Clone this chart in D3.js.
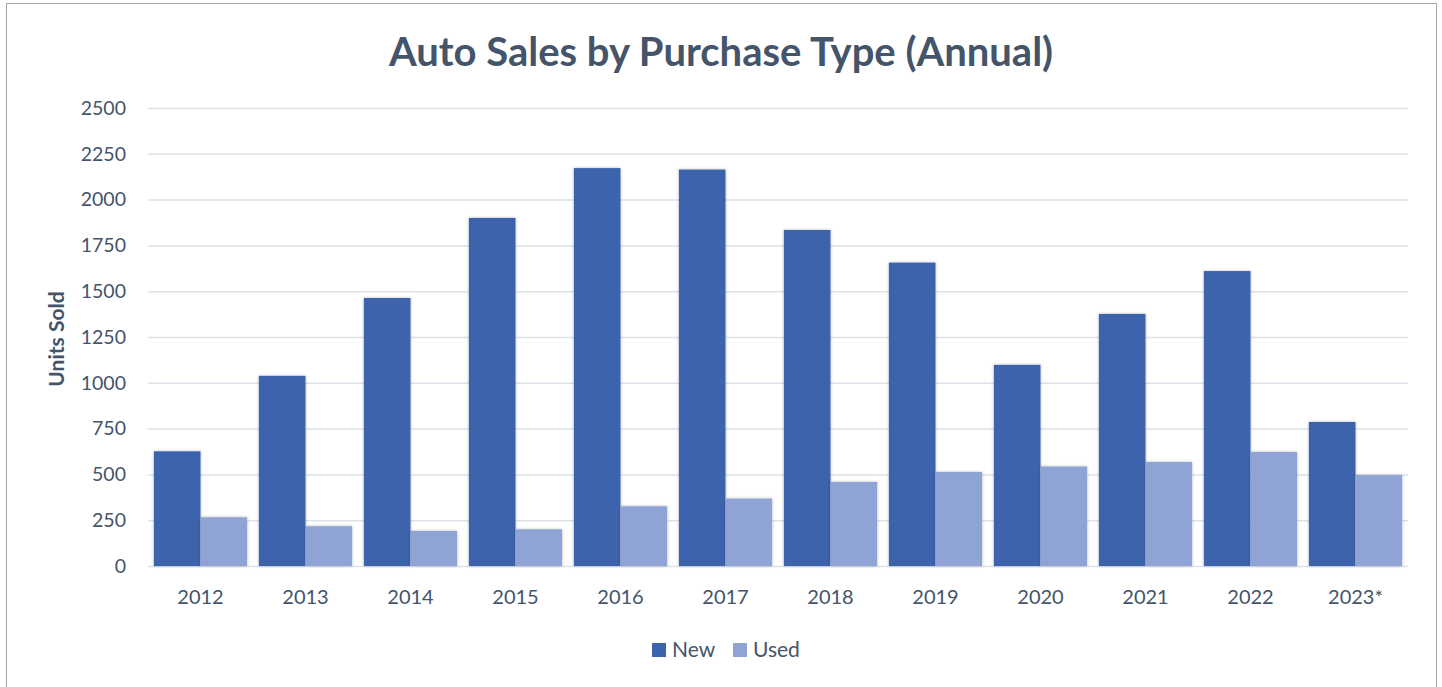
<!DOCTYPE html>
<html>
<head>
<meta charset="utf-8">
<script src="https://cdn.jsdelivr.net/npm/d3@7"></script>
<style>
  body { margin: 0; background: #fff; }
  svg text { font-family: Lato, "Open Sans", sans-serif; fill: #44546a; }
</style>
</head>
<body>
<svg id="chart" width="1442" height="687"></svg>
<script>
const years = ['2012', '2013', '2014', '2015', '2016', '2017', '2018', '2019', '2020', '2021', '2022', '2023*'];
const newSales = [626, 1038, 1463, 1900, 2172, 2164, 1834, 1656, 1098, 1376, 1610, 786];
const usedSales = [266, 217, 191, 200, 326, 368, 459, 513, 543, 568, 622, 496];
const seriesNames = ['New', 'Used'];
const yTicks = [0, 250, 500, 750, 1000, 1250, 1500, 1750, 2000, 2250, 2500];

const colors = {New: '#3c64ad', Used: '#8fa3d4'};

const svg = d3.select('#chart');

// outer border
svg.append('rect')
    .attr('x', 6.5).attr('y', 3.5)
    .attr('width', 1430).attr('height', 700)
    .attr('fill', '#fff')
    .attr('stroke', '#a6a6a6')
    .attr('stroke-width', 1);

// soft shadow for the bars
const defs = svg.append('defs');
defs.append('filter').attr('id', 'shadow')
    .attr('x', '-20%').attr('y', '-5%').attr('width', '140%').attr('height', '110%')
    .append('feDropShadow')
    .attr('dx', 0).attr('dy', 0).attr('stdDeviation', 1.6)
    .attr('flood-color', '#000').attr('flood-opacity', 0.28);

const plot = {left: 148, right: 1408, top: 108, bottom: 566};

const y = d3.scaleLinear().domain([0, 2500]).range([plot.bottom, plot.top]);

const x0 = d3.scaleBand()
    .domain(years)
    .range([plot.left, plot.right])
    .paddingInner(0.112)
    .paddingOuter(0.056);

const x1 = d3.scaleBand()
    .domain(seriesNames)
    .range([0, x0.bandwidth()]);

// gridlines
svg.append('g')
    .selectAll('line')
    .data(yTicks)
    .join('line')
    .attr('x1', plot.left).attr('x2', plot.right)
    .attr('y1', d => y(d) + 0.5).attr('y2', d => y(d) + 0.5)
    .attr('stroke', '#dde2ea')
    .attr('stroke-width', 1.5);

// y tick labels
svg.append('g')
    .selectAll('text')
    .data(yTicks)
    .join('text')
    .attr('x', 126)
    .attr('y', d => y(d))
    .attr('dy', '0.35em')
    .attr('text-anchor', 'end')
    .style('font-size', '19.5px')
    .text(d => d);

// bars
const rows = years.map((yr, i) => ({year: yr, New: newSales[i], Used: usedSales[i]}));

const groups = svg.append('g')
    .selectAll('g')
    .data(rows)
    .join('g')
    .attr('transform', d => 'translate(' + x0(d.year) + ',0)');

groups.selectAll('rect')
    .data(d => seriesNames.map(k => ({key: k, value: d[k]})))
    .join('rect')
    .attr('x', d => x1(d.key))
    .attr('y', d => y(d.value))
    .attr('width', x1.bandwidth())
    .attr('height', d => y(0) - y(d.value))
    .attr('fill', d => colors[d.key])
    .attr('filter', 'url(#shadow)');

// x labels
svg.append('g')
    .selectAll('text')
    .data(years)
    .join('text')
    .attr('x', d => x0(d) + x0.bandwidth() / 2)
    .attr('y', 604)
    .attr('text-anchor', 'middle')
    .style('font-size', '20px')
    .text(d => d);

// axis title
svg.append('text')
    .attr('transform', 'translate(64,' + ((plot.top + plot.bottom) / 2 + 2) + ') rotate(-90)')
    .attr('text-anchor', 'middle')
    .style('font-size', '21px')
    .style('font-weight', 'bold')
    .text('Units Sold');

// chart title
svg.append('text')
    .attr('x', 721)
    .attr('y', 66)
    .attr('text-anchor', 'middle')
    .style('font-size', '40px')
    .style('font-weight', 'bold')
    .text('Auto Sales by Purchase Type (Annual)');

// legend
const legendX = [652, 733];
const legend = svg.append('g')
    .selectAll('g')
    .data(seriesNames)
    .join('g')
    .attr('transform', (d, i) => 'translate(' + legendX[i] + ',643)');

legend.append('rect')
    .attr('width', 14).attr('height', 14)
    .attr('fill', d => colors[d]);

legend.append('text')
    .attr('x', 20)
    .attr('y', 7)
    .attr('dy', '0.35em')
    .style('font-size', '21px')
    .text(d => d);
</script>
</body>
</html>
